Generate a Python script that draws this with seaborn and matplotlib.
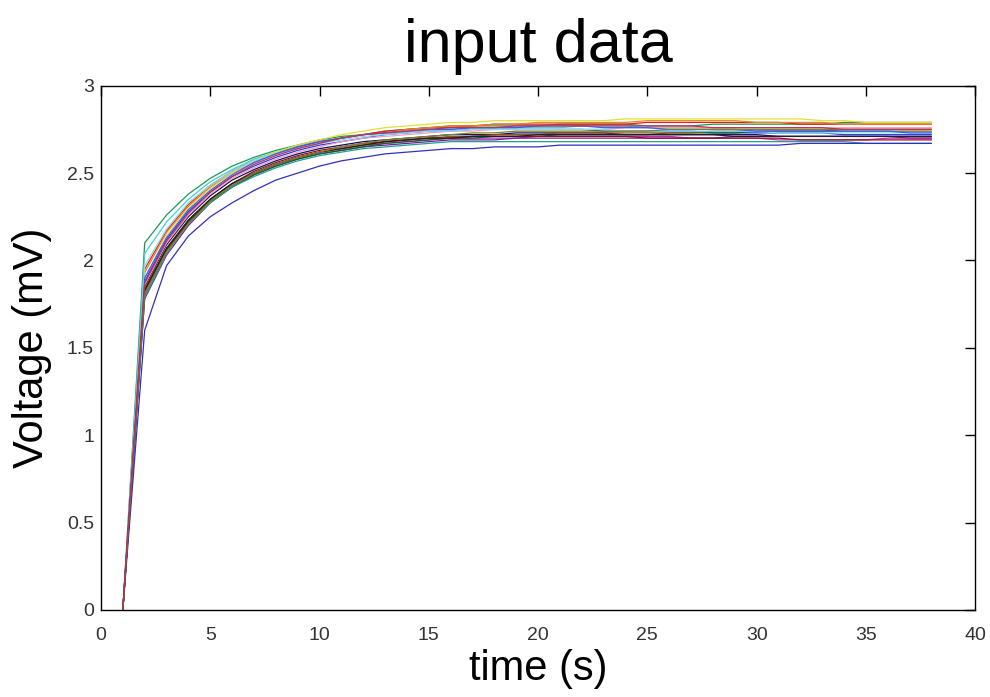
import numpy as np
import pandas as pd
import matplotlib
matplotlib.use("Agg")
import matplotlib.pyplot as plt
import seaborn as sns

time = list(range(1, 39))

s01 = [0, 2.10, 2.26, 2.38, 2.47, 2.54, 2.59, 2.63, 2.66, 2.69, 2.71, 2.72, 2.74, 2.75, 2.76, 2.76, 2.77, 2.77, 2.77, 2.77, 2.78, 2.78, 2.78, 2.78, 2.77, 2.77, 2.77, 2.78, 2.78, 2.78, 2.78, 2.78, 2.78, 2.79, 2.79, 2.79, 2.79, 2.79]
s02 = [0, 2.04, 2.22, 2.35, 2.45, 2.52, 2.58, 2.62, 2.65, 2.68, 2.70, 2.72, 2.73, 2.74, 2.75, 2.75, 2.76, 2.76, 2.76, 2.76, 2.76, 2.77, 2.77, 2.77, 2.76, 2.76, 2.76, 2.76, 2.76, 2.76, 2.76, 2.76, 2.76, 2.75, 2.75, 2.75, 2.75, 2.75]
s03 = [0, 1.95, 2.17, 2.32, 2.43, 2.51, 2.57, 2.61, 2.65, 2.68, 2.70, 2.72, 2.74, 2.75, 2.76, 2.77, 2.77, 2.78, 2.78, 2.78, 2.78, 2.78, 2.78, 2.78, 2.79, 2.79, 2.79, 2.79, 2.79, 2.79, 2.79, 2.78, 2.78, 2.78, 2.78, 2.78, 2.78, 2.78]
s04 = [0, 1.93, 2.16, 2.31, 2.42, 2.50, 2.56, 2.61, 2.64, 2.67, 2.70, 2.72, 2.73, 2.75, 2.76, 2.77, 2.77, 2.78, 2.78, 2.79, 2.79, 2.79, 2.79, 2.79, 2.80, 2.80, 2.80, 2.80, 2.80, 2.79, 2.79, 2.79, 2.79, 2.78, 2.78, 2.78, 2.78, 2.78]
s05 = [0, 1.90, 2.14, 2.30, 2.41, 2.50, 2.57, 2.62, 2.66, 2.69, 2.72, 2.74, 2.76, 2.77, 2.78, 2.79, 2.79, 2.80, 2.80, 2.80, 2.80, 2.80, 2.80, 2.81, 2.81, 2.81, 2.81, 2.81, 2.81, 2.81, 2.81, 2.81, 2.80, 2.80, 2.79, 2.79, 2.79, 2.79]
s06 = [0, 1.88, 2.12, 2.28, 2.39, 2.48, 2.54, 2.59, 2.63, 2.66, 2.68, 2.70, 2.72, 2.73, 2.74, 2.74, 2.75, 2.75, 2.75, 2.75, 2.75, 2.75, 2.74, 2.74, 2.74, 2.74, 2.74, 2.73, 2.73, 2.73, 2.73, 2.73, 2.73, 2.72, 2.72, 2.72, 2.72, 2.72]
s07 = [0, 1.85, 2.09, 2.25, 2.37, 2.46, 2.52, 2.57, 2.61, 2.64, 2.66, 2.68, 2.69, 2.70, 2.71, 2.72, 2.72, 2.72, 2.73, 2.73, 2.73, 2.73, 2.73, 2.72, 2.72, 2.72, 2.72, 2.72, 2.72, 2.72, 2.71, 2.71, 2.71, 2.71, 2.71, 2.71, 2.70, 2.70]
s08 = [0, 1.80, 2.05, 2.22, 2.34, 2.43, 2.50, 2.55, 2.59, 2.62, 2.64, 2.66, 2.67, 2.68, 2.69, 2.70, 2.70, 2.70, 2.70, 2.71, 2.71, 2.71, 2.71, 2.71, 2.71, 2.71, 2.70, 2.70, 2.70, 2.70, 2.69, 2.69, 2.69, 2.69, 2.69, 2.70, 2.70, 2.70]
s09 = [0, 1.78, 2.03, 2.20, 2.33, 2.42, 2.49, 2.54, 2.58, 2.61, 2.63, 2.65, 2.66, 2.67, 2.68, 2.69, 2.69, 2.69, 2.70, 2.70, 2.70, 2.70, 2.70, 2.70, 2.70, 2.70, 2.70, 2.70, 2.71, 2.71, 2.71, 2.71, 2.71, 2.71, 2.71, 2.71, 2.71, 2.71]
s10 = [0, 1.83, 2.06, 2.22, 2.34, 2.42, 2.49, 2.54, 2.58, 2.61, 2.63, 2.65, 2.67, 2.68, 2.69, 2.70, 2.70, 2.71, 2.71, 2.71, 2.72, 2.72, 2.72, 2.72, 2.72, 2.73, 2.73, 2.73, 2.73, 2.74, 2.74, 2.74, 2.74, 2.75, 2.75, 2.75, 2.75, 2.75]
s11 = [0, 1.84, 2.07, 2.23, 2.35, 2.44, 2.50, 2.55, 2.59, 2.62, 2.64, 2.66, 2.68, 2.69, 2.70, 2.71, 2.71, 2.72, 2.72, 2.72, 2.73, 2.73, 2.73, 2.73, 2.73, 2.73, 2.73, 2.74, 2.74, 2.74, 2.74, 2.74, 2.74, 2.74, 2.74, 2.74, 2.74, 2.74]
s12 = [0, 1.86, 2.10, 2.26, 2.38, 2.47, 2.53, 2.58, 2.62, 2.65, 2.68, 2.70, 2.71, 2.72, 2.73, 2.74, 2.74, 2.75, 2.75, 2.75, 2.75, 2.75, 2.75, 2.76, 2.76, 2.76, 2.76, 2.76, 2.76, 2.76, 2.76, 2.76, 2.76, 2.76, 2.76, 2.76, 2.76, 2.76]
s13 = [0, 1.97, 2.18, 2.33, 2.43, 2.51, 2.57, 2.61, 2.64, 2.67, 2.69, 2.71, 2.72, 2.73, 2.74, 2.74, 2.75, 2.75, 2.75, 2.75, 2.75, 2.75, 2.75, 2.74, 2.74, 2.74, 2.74, 2.74, 2.74, 2.74, 2.73, 2.73, 2.73, 2.73, 2.73, 2.73, 2.73, 2.73]
s14 = [0, 1.90, 2.13, 2.29, 2.40, 2.49, 2.56, 2.61, 2.65, 2.68, 2.70, 2.72, 2.73, 2.74, 2.75, 2.75, 2.76, 2.76, 2.76, 2.77, 2.77, 2.77, 2.76, 2.76, 2.76, 2.75, 2.75, 2.75, 2.75, 2.74, 2.74, 2.74, 2.74, 2.74, 2.74, 2.74, 2.73, 2.73]
s15 = [0, 1.82, 2.06, 2.23, 2.35, 2.44, 2.51, 2.56, 2.60, 2.63, 2.65, 2.67, 2.68, 2.69, 2.70, 2.70, 2.71, 2.71, 2.71, 2.71, 2.71, 2.71, 2.71, 2.71, 2.70, 2.70, 2.70, 2.70, 2.70, 2.70, 2.70, 2.69, 2.69, 2.69, 2.69, 2.69, 2.69, 2.69]
s16 = [0, 1.79, 2.04, 2.21, 2.33, 2.42, 2.48, 2.53, 2.57, 2.60, 2.62, 2.64, 2.65, 2.66, 2.67, 2.68, 2.68, 2.68, 2.68, 2.68, 2.68, 2.68, 2.68, 2.68, 2.68, 2.68, 2.68, 2.68, 2.68, 2.68, 2.68, 2.68, 2.68, 2.68, 2.67, 2.67, 2.67, 2.67]
s17 = [0, 1.60, 1.97, 2.14, 2.25, 2.33, 2.40, 2.46, 2.50, 2.54, 2.57, 2.59, 2.61, 2.62, 2.63, 2.64, 2.64, 2.65, 2.65, 2.65, 2.66, 2.66, 2.66, 2.66, 2.66, 2.66, 2.66, 2.66, 2.66, 2.66, 2.66, 2.67, 2.67, 2.67, 2.67, 2.67, 2.67, 2.67]
s18 = [0, 1.83, 2.07, 2.23, 2.35, 2.44, 2.50, 2.55, 2.59, 2.62, 2.64, 2.66, 2.68, 2.69, 2.70, 2.70, 2.71, 2.71, 2.71, 2.72, 2.72, 2.72, 2.72, 2.72, 2.72, 2.72, 2.72, 2.72, 2.71, 2.71, 2.71, 2.71, 2.71, 2.71, 2.71, 2.71, 2.71, 2.71]
s19 = [0, 1.81, 2.05, 2.21, 2.34, 2.43, 2.50, 2.55, 2.59, 2.62, 2.65, 2.67, 2.69, 2.70, 2.71, 2.72, 2.73, 2.73, 2.74, 2.74, 2.74, 2.74, 2.74, 2.74, 2.74, 2.75, 2.75, 2.75, 2.75, 2.75, 2.75, 2.75, 2.75, 2.75, 2.75, 2.75, 2.75, 2.75]
s20 = [0, 1.87, 2.11, 2.27, 2.39, 2.48, 2.55, 2.60, 2.64, 2.67, 2.70, 2.72, 2.73, 2.74, 2.75, 2.76, 2.76, 2.76, 2.77, 2.77, 2.77, 2.77, 2.77, 2.77, 2.77, 2.77, 2.77, 2.76, 2.76, 2.76, 2.76, 2.76, 2.76, 2.75, 2.75, 2.75, 2.75, 2.75]

series = {"s01": s01, "s02": s02, "s03": s03, "s04": s04, "s05": s05,
          "s06": s06, "s07": s07, "s08": s08, "s09": s09, "s10": s10,
          "s11": s11, "s12": s12, "s13": s13, "s14": s14, "s15": s15,
          "s16": s16, "s17": s17, "s18": s18, "s19": s19, "s20": s20}

colors = ["#1a9a50", "#40d0d0", "#e02020", "#f08020", "#e0e030",
          "#2040e0", "#101060", "#d020c0", "#7020a0", "#106030",
          "#905020", "#f0a0c0", "#80e0f0", "#3060ff", "#901020",
          "#20a090", "#3030c0", "#202020", "#808020", "#c03050"]

rows = []
for name, vals in series.items():
    for t, v in zip(time, vals):
        rows.append((name, t, v))
df = pd.DataFrame(rows, columns=["series", "time", "voltage"])

sns.set_style("white")
plt.rcParams["font.family"] = ["Liberation Sans", "DejaVu Sans"]

fig = plt.figure(figsize=(9.9, 6.97), dpi=100)
ax = fig.add_axes([0.102, 0.125, 0.883, 0.752])
sns.lineplot(data=df, x="time", y="voltage", hue="series",
             palette=dict(zip(series.keys(), colors)), legend=False,
             linewidth=0.9, ax=ax)

ax.set_xlim(0, 40)
ax.set_ylim(0, 3)
ax.set_xticks(range(0, 41, 5))
ax.set_yticks([0, 0.5, 1, 1.5, 2, 2.5, 3])
ax.set_yticklabels(["0", "0.5", "1", "1.5", "2", "2.5", "3"])
ax.tick_params(direction="in", top=True, right=True, length=7, width=1,
               labelsize=14, labelcolor="#333333", color="black")
ax.tick_params(axis="x", pad=12)
ax.tick_params(axis="y", pad=5)
for sp in ax.spines.values():
    sp.set_visible(True)
    sp.set_color("black")
    sp.set_linewidth(1.0)

ax.set_xlabel("time (s)", fontsize=30, labelpad=4, color="black")
ax.set_ylabel("Voltage (mV)", fontsize=30, labelpad=11, color="black")
ax.set_title("input data", fontsize=44, pad=17, color="black")

fig.savefig("out.png", dpi=100)
